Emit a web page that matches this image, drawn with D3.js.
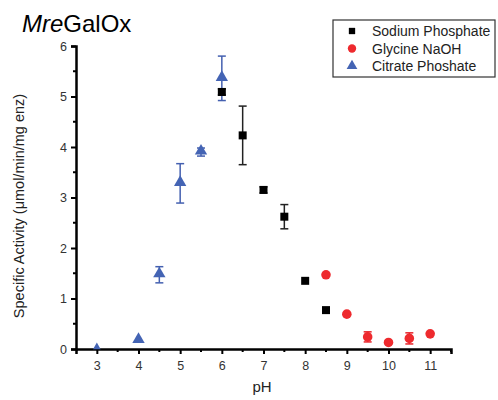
<!DOCTYPE html>
<html><head><meta charset="utf-8">
<script src="https://cdn.jsdelivr.net/npm/d3@7"></script>
<style>body{margin:0;background:#fff;} svg{display:block;font-family:Arial,"Liberation Sans",sans-serif;}</style>
</head><body>
<svg id="c" width="498" height="400"></svg>
<script>
// Data
const sodiumPH   = [6, 6.5, 7, 7.5, 8, 8.5];
const sodiumVal  = [5.09, 4.23, 3.15, 2.62, 1.35, 0.77];
const sodiumErr  = [0.06, 0.58, 0.06, 0.24, 0.03, 0.03];
const glycinePH  = [8.5, 9, 9.5, 10, 10.5, 11];
const glycineVal = [1.47, 0.69, 0.24, 0.13, 0.21, 0.30];
const glycineErr = [0.03, 0.03, 0.10, 0.03, 0.11, 0.03];
const citratePH  = [3, 4, 4.5, 5, 5.5, 6];
const citrateVal = [0.02, 0.17, 1.47, 3.28, 3.90, 5.36];
const citrateErr = [0.0, 0.03, 0.16, 0.39, 0.08, 0.44];
const xTicks = [3, 4, 5, 6, 7, 8, 9, 10, 11];
const yTicks = [0, 1, 2, 3, 4, 5, 6];
const seriesNames = ["Sodium Phosphate", "Glycine NaOH", "Citrate Phoshate"];

const svg = d3.select("#c");
const x = d3.scaleLinear().domain([2.5, 11.5]).range([76, 451]);
const y = d3.scaleLinear().domain([0, 6]).range([349, 46]);

// Axes
const xAxis = d3.axisBottom(x).tickValues(xTicks).tickSize(5).tickPadding(7).tickFormat(d3.format("d"));
const gx = svg.append("g").attr("transform", `translate(0,${y(0)})`).call(xAxis);
const yAxis = d3.axisLeft(y).tickValues(yTicks).tickSize(5).tickPadding(4).tickFormat(d3.format("d"));
const gy = svg.append("g").attr("transform", `translate(${x(2.5)},0)`).call(yAxis);
[gx, gy].forEach(g => {
  g.select(".domain").attr("stroke", "#000").attr("stroke-width", 2.5);
  g.selectAll(".tick line").attr("stroke", "#000").attr("stroke-width", 2);
  g.selectAll(".tick text").attr("fill", "#333").attr("font-size", 12.5);
});
// minor ticks
const xMinor = d3.range(3.5, 11.6, 1);
svg.append("g").selectAll("line").data(xMinor).join("line")
  .attr("x1", d => x(d)).attr("x2", d => x(d)).attr("y1", y(0)).attr("y2", y(0) + 3)
  .attr("stroke", "#000").attr("stroke-width", 2);
const yMinor = d3.range(0.5, 6, 1);
svg.append("g").selectAll("line").data(yMinor).join("line")
  .attr("x1", x(2.5)).attr("x2", x(2.5) - 3).attr("y1", d => y(d)).attr("y2", d => y(d))
  .attr("stroke", "#000").attr("stroke-width", 2);

// Error bars
function errBars(px, vals, errs, color) {
  const g = svg.append("g");
  px.forEach((p, i) => {
    if (errs[i] < 0.05) return;
    const cx = x(p), t = y(vals[i] + errs[i]), b = y(vals[i] - errs[i]);
    g.append("line").attr("x1", cx).attr("x2", cx).attr("y1", t).attr("y2", b).attr("stroke", color).attr("stroke-width", 1.5);
    g.append("line").attr("x1", cx - 4).attr("x2", cx + 4).attr("y1", t).attr("y2", t).attr("stroke", color).attr("stroke-width", 1.5);
    g.append("line").attr("x1", cx - 4).attr("x2", cx + 4).attr("y1", b).attr("y2", b).attr("stroke", color).attr("stroke-width", 1.5);
  });
}
errBars(sodiumPH, sodiumVal, sodiumErr, "#222");
errBars(glycinePH, glycineVal, glycineErr, "#e8242a");
errBars(citratePH, citrateVal, citrateErr, "#4460b0");

const sq = d3.symbol().type(d3.symbolSquare).size(64);
const ci = d3.symbol().type(d3.symbolCircle).size(72);
const tr = d3.symbol().type(d3.symbolTriangle).size(66);

svg.append("g").selectAll("path").data(sodiumPH.map((p, i) => [p, sodiumVal[i]])).join("path")
  .attr("d", sq).attr("transform", d => `translate(${x(d[0])},${y(d[1])})`).attr("fill", "#000");
svg.append("g").selectAll("path").data(glycinePH.map((p, i) => [p, glycineVal[i]])).join("path")
  .attr("d", ci).attr("transform", d => `translate(${x(d[0])},${y(d[1])})`).attr("fill", "#ee2a2e");
svg.append("g").selectAll("path").data(citratePH.map((p, i) => [p, citrateVal[i]])).join("path")
  .attr("d", (d, i) => i === 0 ? d3.symbol().type(d3.symbolTriangle).size(25)() : tr())
  .attr("transform", d => `translate(${x(d[0])},${y(d[1]) - 1})`).attr("fill", "#4464b4");

// Title
const title = svg.append("text").attr("x", 22).attr("y", 32).attr("font-size", 24).attr("fill", "#000");
title.append("tspan").attr("font-style", "italic").text("Mre");
title.append("tspan").text("GalOx");

// Axis labels
svg.append("text").attr("x", 262).attr("y", 392).attr("text-anchor", "middle").attr("font-size", 15).attr("fill", "#222").text("pH");
svg.append("text").attr("transform", `translate(24,206) rotate(-90)`).attr("text-anchor", "middle")
  .attr("font-size", 14.5).attr("fill", "#222").text("Specific Activity (μmol/min/mg enz)");

// Legend
const lg = svg.append("g");
lg.append("rect").attr("x", 333).attr("y", 20).attr("width", 162).attr("height", 57)
  .attr("fill", "#fff").attr("stroke", "#333").attr("stroke-width", 1.2);
const legSyms = [
  {s: d3.symbol().type(d3.symbolSquare).size(40), c: "#000"},
  {s: d3.symbol().type(d3.symbolCircle).size(55), c: "#ee2a2e"},
  {s: d3.symbol().type(d3.symbolTriangle).size(50), c: "#4464b4"}
];
seriesNames.forEach((n, i) => {
  const yy = 31 + i * 17.5;
  lg.append("path").attr("d", legSyms[i].s).attr("transform", `translate(352,${yy})`).attr("fill", legSyms[i].c);
  lg.append("text").attr("x", 372).attr("y", yy + 5).attr("font-size", 14).attr("fill", "#222").text(n);
});
</script>
</body></html>
